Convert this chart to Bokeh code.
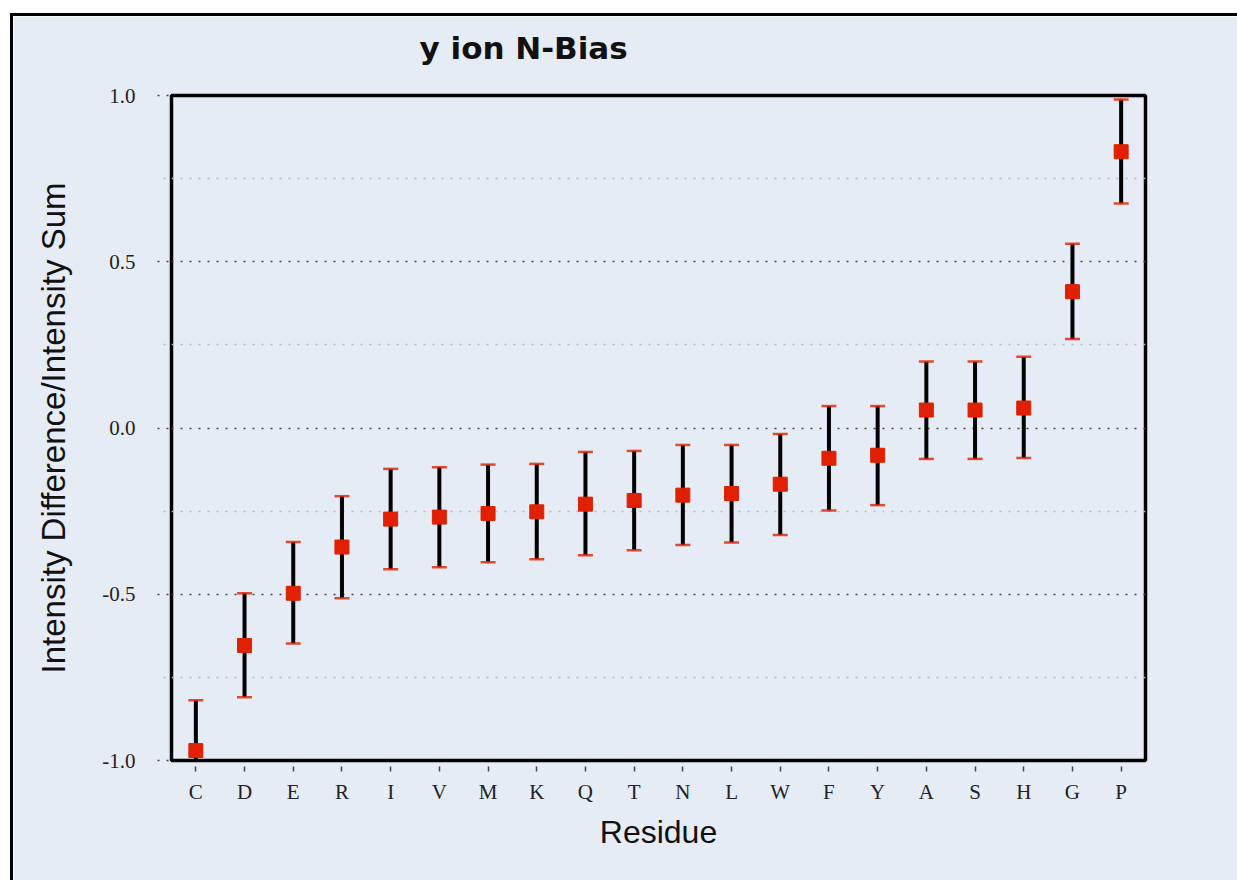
from bokeh.plotting import figure
from bokeh.models import ColumnDataSource, FactorRange, Range1d, FixedTicker, PrintfTickFormatter, Title
from bokeh.embed import file_html
from bokeh.resources import INLINE

residues = ["C", "D", "E", "R", "I", "V", "M", "K", "Q", "T",
            "N", "L", "W", "F", "Y", "A", "S", "H", "G", "P"]
bias = [-0.970, -0.654, -0.497, -0.358, -0.274, -0.268, -0.257, -0.252, -0.229, -0.218,
        -0.202, -0.197, -0.169, -0.091, -0.082, 0.054, 0.054, 0.060, 0.410, 0.831]
upper = [-0.819, -0.497, -0.343, -0.205, -0.123, -0.118, -0.110, -0.108, -0.072, -0.069,
         -0.051, -0.051, -0.018, 0.066, 0.066, 0.200, 0.200, 0.214, 0.554, 0.988]
lower = [-1.120, -0.810, -0.648, -0.512, -0.425, -0.419, -0.404, -0.395, -0.383, -0.368,
         -0.352, -0.344, -0.322, -0.248, -0.232, -0.093, -0.093, -0.090, 0.268, 0.675]
major_ticks = [-1.0, -0.5, 0.0, 0.5, 1.0]
minor_ticks = [-0.75, -0.25, 0.25, 0.75]
title_text = "y ion N-Bias"

BG = "#e6ecf6"
RED = "#e02000"

src = ColumnDataSource(dict(residue=residues, bias=bias, upper=upper, lower=lower))

p = figure(
    x_range=FactorRange(*residues, range_padding=0),
    y_range=Range1d(-1.0, 1.0),
    width=1230, height=870,
    output_backend="svg", toolbar_location=None,
    min_border_left=158, min_border_right=98,
    min_border_top=79, min_border_bottom=126,
)
p.margin = (13, 0, 0, 10)
p.styles = {"border": "3px solid black"}

p.background_fill_color = BG
p.border_fill_color = BG
p.outline_line_color = "black"
p.outline_line_width = 3.5

# spacer between the frame and the title (closest to the frame)
spacer = Title(text=" ", text_font_size="10px", standoff=17, text_color=BG)
p.add_layout(spacer, "above")
main_title = Title(text=title_text, text_font="DejaVu Sans", text_font_style="bold",
                   text_font_size="31px", text_color="#111111", align="left",
                   offset=248, standoff=0)
p.add_layout(main_title, "above")

# grids
p.xgrid.grid_line_color = None
p.ygrid.ticker = FixedTicker(ticks=major_ticks, minor_ticks=minor_ticks)
p.ygrid.grid_line_color = "#444444"
p.ygrid.grid_line_dash = "2 7"
p.ygrid.grid_line_width = 1.5
p.ygrid.minor_grid_line_color = "#b8bcc4"
p.ygrid.minor_grid_line_dash = "2 7"
p.ygrid.minor_grid_line_width = 1.5

# y axis
p.yaxis.ticker = FixedTicker(ticks=major_ticks, minor_ticks=minor_ticks)
p.yaxis.formatter = PrintfTickFormatter(format="%.1f")
p.yaxis.axis_line_color = None
p.yaxis.major_tick_in = 0
p.yaxis.major_tick_out = 14
p.yaxis.major_tick_line_color = "#444444"
p.yaxis.major_tick_line_dash = "2 7"
p.yaxis.major_tick_line_width = 1.5
p.yaxis.minor_tick_in = 0
p.yaxis.minor_tick_out = 8
p.yaxis.minor_tick_line_color = "#b8bcc4"
p.yaxis.minor_tick_line_dash = "2 7"
p.yaxis.minor_tick_line_width = 1.5
p.yaxis.major_label_text_font = "Liberation Serif"
p.yaxis.major_label_text_font_size = "21px"
p.yaxis.major_label_text_color = "#222222"
p.yaxis.major_label_standoff = 22
p.yaxis.axis_label = "Intensity Difference/Intensity Sum"
p.yaxis.axis_label_text_font = "Liberation Sans"
p.yaxis.axis_label_text_font_style = "normal"
p.yaxis.axis_label_text_font_size = "33px"
p.yaxis.axis_label_text_color = "#111111"
p.yaxis.axis_label_standoff = 27

# x axis
p.xaxis.axis_line_color = None
p.xaxis.major_tick_in = -6
p.xaxis.major_tick_out = 11
p.xaxis.major_tick_line_color = "#444444"
p.xaxis.major_tick_line_width = 1.5
p.xaxis.minor_tick_line_color = None
p.xaxis.major_label_text_font = "Liberation Serif"
p.xaxis.major_label_text_font_size = "21px"
p.xaxis.major_label_text_color = "#222222"
p.xaxis.major_label_standoff = 8
p.xaxis.axis_label = "Residue"
p.xaxis.axis_label_text_font = "Liberation Sans"
p.xaxis.axis_label_text_font_style = "normal"
p.xaxis.axis_label_text_font_size = "32px"
p.xaxis.axis_label_text_color = "#111111"
p.xaxis.axis_label_standoff = 7

# error bars
p.segment(x0="residue", y0="lower", x1="residue", y1="upper", source=src,
          line_color="black", line_width=4)
p.scatter(x="residue", y="upper", source=src, marker="dash", size=15,
          line_color=RED, line_width=2.5, line_alpha=0.8)
p.scatter(x="residue", y="lower", source=src, marker="dash", size=15,
          line_color=RED, line_width=2.5, line_alpha=0.8)
p.scatter(x="residue", y="bias", source=src, marker="square", size=14,
          fill_color=RED, line_color=RED, line_width=1)

open("out.html", "w").write(file_html(p, INLINE))
